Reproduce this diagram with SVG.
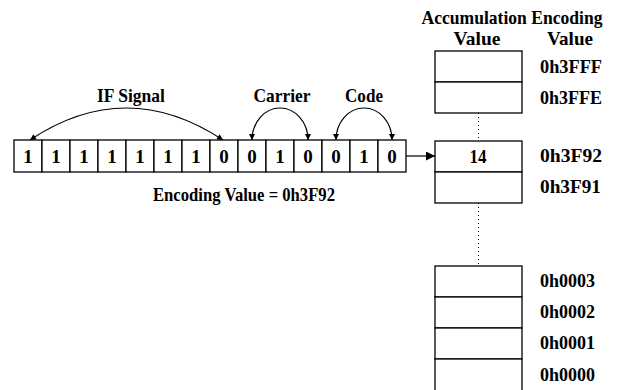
<svg xmlns="http://www.w3.org/2000/svg" width="617" height="390" viewBox="0 0 617 390">
  <style>
    .cell { fill: #fff; stroke: #000; stroke-width: 1.3; }
    .t { font-family: "Liberation Serif", "Times New Roman", serif; font-weight: bold; fill: #000; }
    .lbl { font-size: 19px; }
    .dig { font-size: 19px; text-anchor: middle; }
    .mid { text-anchor: middle; }
    .arc { fill: none; stroke: #000; stroke-width: 1.2; }
    .dot { stroke: #000; stroke-width: 1; stroke-dasharray: 1 3; fill: none; }
  </style>
  <defs>
    <marker id="tip" viewBox="0 0 10 10" refX="10" refY="5" markerWidth="7" markerHeight="6" markerUnits="userSpaceOnUse" orient="auto-start-reverse">
      <path d="M0,0 L10,5 L0,10 z" fill="#000"/>
    </marker>
    <marker id="bigtip" viewBox="0 0 10 10" refX="10" refY="5" markerWidth="12" markerHeight="9" markerUnits="userSpaceOnUse" orient="auto">
      <path d="M0,0 L10,5 L0,10 z" fill="#000"/>
    </marker>
  </defs>

  <!-- 14-bit code word -->
  <g id="bits">
    <rect class="cell" x="14" y="140" width="28" height="32"/>
    <rect class="cell" x="42" y="140" width="28" height="32"/>
    <rect class="cell" x="70" y="140" width="28" height="32"/>
    <rect class="cell" x="98" y="140" width="28" height="32"/>
    <rect class="cell" x="126" y="140" width="28" height="32"/>
    <rect class="cell" x="154" y="140" width="28" height="32"/>
    <rect class="cell" x="182" y="140" width="28" height="32"/>
    <rect class="cell" x="210" y="140" width="28" height="32"/>
    <rect class="cell" x="238" y="140" width="28" height="32"/>
    <rect class="cell" x="266" y="140" width="28" height="32"/>
    <rect class="cell" x="294" y="140" width="28" height="32"/>
    <rect class="cell" x="322" y="140" width="28" height="32"/>
    <rect class="cell" x="350" y="140" width="28" height="32"/>
    <rect class="cell" x="378" y="140" width="28" height="32"/>
    <g class="t dig">
      <text x="28" y="163">1</text>
      <text x="56" y="163">1</text>
      <text x="84" y="163">1</text>
      <text x="112" y="163">1</text>
      <text x="140" y="163">1</text>
      <text x="168" y="163">1</text>
      <text x="196" y="163">1</text>
      <text x="224" y="163">0</text>
      <text x="252" y="163">0</text>
      <text x="280" y="163">1</text>
      <text x="308" y="163">0</text>
      <text x="336" y="163">0</text>
      <text x="364" y="163">1</text>
      <text x="392" y="163">0</text>
    </g>
  </g>

  <!-- field labels -->
  <g id="field-labels" class="t lbl mid">
    <text x="131" y="102" textLength="68" lengthAdjust="spacingAndGlyphs">IF Signal</text>
    <text x="282" y="102" textLength="57" lengthAdjust="spacingAndGlyphs">Carrier</text>
    <text x="364" y="102" textLength="38" lengthAdjust="spacingAndGlyphs">Code</text>
    <text x="244" y="201" textLength="182" lengthAdjust="spacingAndGlyphs">Encoding Value = 0h3F92</text>
  </g>

  <!-- accumulation table -->
  <g id="table-top">
    <rect class="cell" x="435" y="51" width="87" height="31"/>
    <rect class="cell" x="435" y="82" width="87" height="31"/>
  </g>
  <g id="table-mid">
    <rect class="cell" x="435" y="141" width="87" height="31"/>
    <rect class="cell" x="435" y="172" width="87" height="31"/>
    <text class="t dig" x="478" y="163" textLength="17" lengthAdjust="spacingAndGlyphs">14</text>
  </g>
  <g id="table-bottom">
    <rect class="cell" x="435" y="266" width="87" height="31"/>
    <rect class="cell" x="435" y="297" width="87" height="31"/>
    <rect class="cell" x="435" y="328" width="87" height="31"/>
    <rect class="cell" x="435" y="359" width="87" height="33"/>
  </g>

  <!-- column headers and encoding values -->
  <g id="table-labels" class="t lbl">
    <text x="512" y="24" text-anchor="middle" textLength="181" lengthAdjust="spacingAndGlyphs">Accumulation Encoding</text>
    <text x="477" y="45" text-anchor="middle" textLength="47" lengthAdjust="spacingAndGlyphs">Value</text>
    <text x="570" y="45" text-anchor="middle" textLength="46" lengthAdjust="spacingAndGlyphs">Value</text>
    <text x="540" y="73" textLength="62" lengthAdjust="spacingAndGlyphs">0h3FFF</text>
    <text x="540" y="104" textLength="62" lengthAdjust="spacingAndGlyphs">0h3FFE</text>
    <text x="540" y="162" textLength="62" lengthAdjust="spacingAndGlyphs">0h3F92</text>
    <text x="540" y="193" textLength="61" lengthAdjust="spacingAndGlyphs">0h3F91</text>
    <text x="540" y="287" textLength="55" lengthAdjust="spacingAndGlyphs">0h0003</text>
    <text x="540" y="318" textLength="55" lengthAdjust="spacingAndGlyphs">0h0002</text>
    <text x="540" y="349" textLength="55" lengthAdjust="spacingAndGlyphs">0h0001</text>
    <text x="540" y="381" textLength="55" lengthAdjust="spacingAndGlyphs">0h0000</text>
  </g>

  <!-- connectors -->
  <g id="connectors">
    <path class="arc" d="M223,140 Q126,76 30,140" marker-start="url(#tip)" marker-end="url(#tip)"/>
    <path class="arc" d="M252,140 A28,32 0 0 1 308,140" marker-start="url(#tip)" marker-end="url(#tip)"/>
    <path class="arc" d="M336,140 A28,32 0 0 1 392,140" marker-start="url(#tip)" marker-end="url(#tip)"/>
    <line class="arc" x1="406" y1="156" x2="435" y2="156" marker-end="url(#bigtip)"/>
    <line class="dot" x1="478.5" y1="113" x2="478.5" y2="141"/>
    <line class="dot" x1="478.5" y1="203" x2="478.5" y2="266"/>
  </g>
</svg>
